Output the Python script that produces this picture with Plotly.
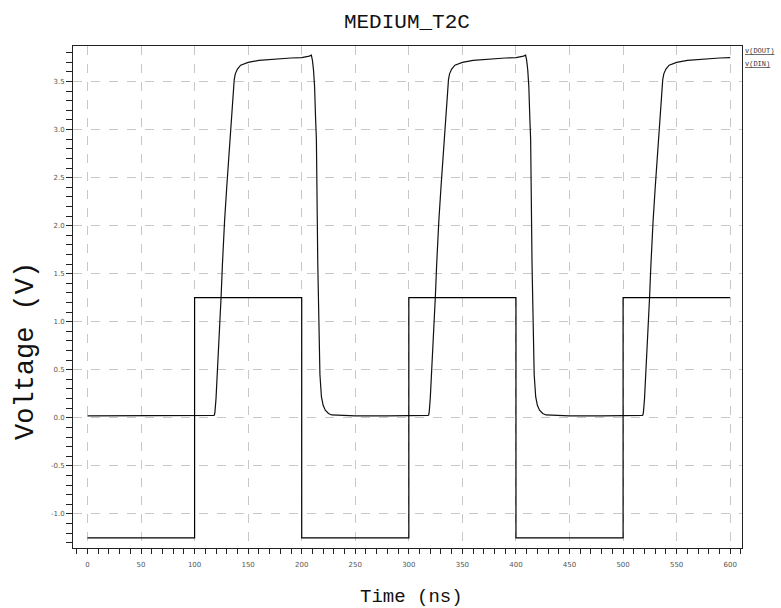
import plotly.graph_objects as go

# Input waveform v(DIN)
din_t = [0, 100, 100, 200, 200, 300, 300, 400, 400, 500, 500, 600]
din_v = [-1.25, -1.25, 1.25, 1.25, -1.25, -1.25, 1.25, 1.25, -1.25, -1.25, 1.25, 1.25]

# Output waveform v(DOUT)
dout_t = [0, 50, 100, 110, 116, 118, 118.5, 119, 120, 121.5, 123, 124.7, 126, 127, 128, 130, 132, 134, 136, 137, 138, 140, 143, 150, 160, 170, 180, 190, 200, 204, 207, 209, 210, 211, 212, 213, 213.7, 215, 216, 217, 218.4, 220, 222, 225, 228, 235, 250, 280, 300,
          310, 316, 318, 318.5, 319, 320, 321.5, 323, 324.7, 326, 327, 328, 330, 332, 334, 336, 337, 338, 340, 343, 350, 360, 370, 380, 390, 400, 404, 407, 409, 410, 411, 412, 413, 413.7, 415, 416, 417, 418.4, 420, 422, 425, 428, 435, 450, 480, 500,
          510, 516, 518, 518.5, 519, 520, 521.5, 523, 524.7, 526, 527, 528, 530, 532, 534, 536, 537, 538, 540, 543, 550, 560, 570, 580, 590, 600]
dout_v = [0.02, 0.02, 0.02, 0.02, 0.02, 0.025, 0.03, 0.06, 0.2, 0.5, 0.85, 1.25, 1.6, 1.9, 2.05, 2.4, 2.75, 3.1, 3.42, 3.52, 3.58, 3.63, 3.67, 3.70, 3.72, 3.73, 3.74, 3.745, 3.75, 3.755, 3.765, 3.775, 3.72, 3.62, 3.45, 3.1, 2.9, 1.6, 0.81, 0.45, 0.22, 0.13, 0.08, 0.045, 0.03, 0.025, 0.02, 0.02, 0.02,
          0.02, 0.02, 0.025, 0.03, 0.06, 0.2, 0.5, 0.85, 1.25, 1.6, 1.9, 2.05, 2.4, 2.75, 3.1, 3.42, 3.52, 3.58, 3.63, 3.67, 3.70, 3.72, 3.73, 3.74, 3.745, 3.75, 3.755, 3.765, 3.775, 3.72, 3.62, 3.45, 3.1, 2.9, 1.6, 0.81, 0.45, 0.22, 0.13, 0.08, 0.045, 0.03, 0.025, 0.02, 0.02, 0.02,
          0.02, 0.02, 0.025, 0.03, 0.06, 0.2, 0.5, 0.85, 1.25, 1.6, 1.9, 2.05, 2.4, 2.75, 3.1, 3.42, 3.52, 3.58, 3.63, 3.67, 3.70, 3.72, 3.73, 3.74, 3.745, 3.75]

x_ticks = [0, 50, 100, 150, 200, 250, 300, 350, 400, 450, 500, 550, 600]
y_ticks = [-1.0, -0.5, 0.0, 0.5, 1.0, 1.5, 2.0, 2.5, 3.0, 3.5]
y_tick_labels = ["-1.0", "-0.5", "0.0", "0.5", "1.0", "1.5", "2.0", "2.5", "3.0", "3.5"]

W, H = 781, 608
L, R, T, B = 73, 39, 46, 60

fig = go.Figure()
fig.add_trace(go.Scatter(x=dout_t, y=dout_v, mode="lines", name="v(DOUT)",
                         line=dict(color="#111111", width=1.2), showlegend=False))
fig.add_trace(go.Scatter(x=din_t, y=din_v, mode="lines", name="v(DIN)",
                         line=dict(color="#000000", width=1.2), showlegend=False))

tickfont = dict(family="DejaVu Sans", size=7, color="#555555")
fig.update_xaxes(range=[-13.5, 611], tickvals=x_ticks, ticktext=[str(v) for v in x_ticks],
                 showline=True, linecolor="#222222", linewidth=1, mirror=True,
                 ticks="outside", ticklen=5, tickcolor="#222222", tickfont=tickfont,
                 ticklabelstandoff=5,
                 showgrid=True, gridcolor="#c8c8c8", griddash="dash", gridwidth=1,
                 zeroline=False,
                 minor=dict(dtick=10, tick0=0, ticks="outside", ticklen=5, tickcolor="#222222", showgrid=False))
fig.update_yaxes(range=[-1.355, 3.87], tickvals=y_ticks, ticktext=y_tick_labels,
                 showline=True, linecolor="#222222", linewidth=1, mirror=True,
                 ticks="outside", ticklen=6, tickcolor="#222222", tickfont=tickfont,
                 showgrid=True, gridcolor="#c8c8c8", griddash="dash", gridwidth=1,
                 zeroline=False,
                 minor=dict(dtick=0.1, tick0=0, ticks="outside", ticklen=6, tickcolor="#222222", showgrid=False))

pw = W - L - R
ph = H - T - B

def px_x(x):
    return (x - L) / pw

def px_y(y):
    return (H - B - y) / ph

fig.update_layout(
    width=W, height=H,
    margin=dict(l=L, r=R, t=T, b=B),
    plot_bgcolor="white", paper_bgcolor="white",
    title=dict(text="MEDIUM_T2C", x=0.521, xanchor="center", y=1 - 21 / H, yanchor="middle",
               font=dict(family="Liberation Mono", size=21, color="#111111")),
    annotations=[
        dict(text="<u>v(DOUT)</u>", xref="paper", yref="paper", x=1.0, y=1.0, xanchor="left", yanchor="top",
             xshift=1, yshift=1, showarrow=False, font=dict(family="Liberation Mono", size=7, color="#333333")),
        dict(text="<u>v(DIN)</u>", xref="paper", yref="paper", x=1.0, y=1.0, xanchor="left", yanchor="top",
             xshift=1, yshift=-12, showarrow=False, font=dict(family="Liberation Mono", size=7, color="#333333")),
        dict(text="Voltage (V)", xref="paper", yref="paper", x=px_x(26), y=px_y(351),
             xanchor="center", yanchor="middle", textangle=-90, showarrow=False,
             font=dict(family="Liberation Mono", size=27, color="#111111")),
        dict(text="Time (ns)", xref="paper", yref="paper", x=px_x(411), y=px_y(597),
             xanchor="center", yanchor="middle", showarrow=False,
             font=dict(family="Liberation Mono", size=19, color="#111111")),
    ],
)

fig.write_html("out.html")
